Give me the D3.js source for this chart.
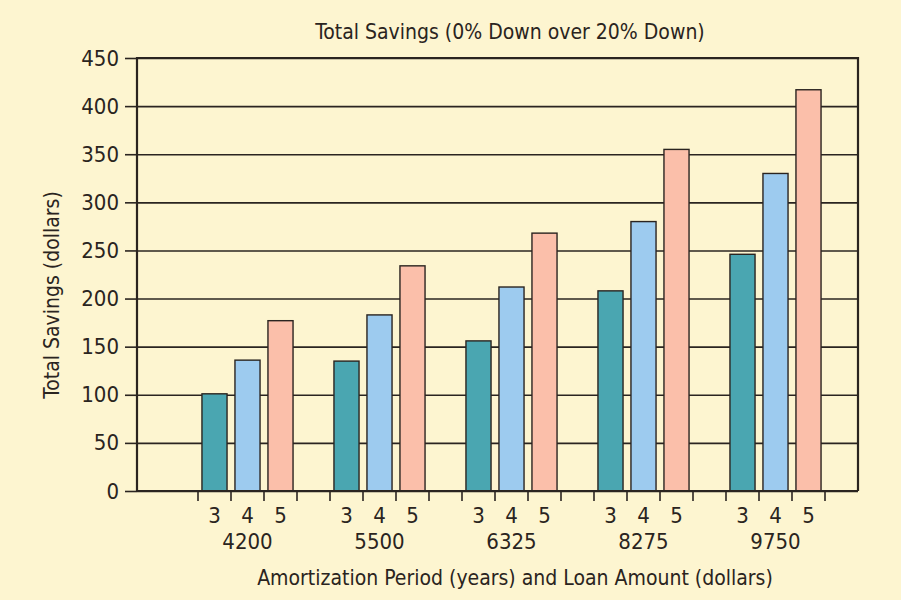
<!DOCTYPE html>
<html>
<head>
<meta charset="utf-8">
<script src="https://cdn.jsdelivr.net/npm/d3@7"></script>
<style>
  html, body { margin: 0; padding: 0; background: #fdf5d0; }
  svg text { font-family: "Liberation Sans Narrow", "DejaVu Sans Condensed", "Roboto Condensed", sans-serif; fill: #2a2420; }
</style>
</head>
<body>
<div class="bar-chart"></div>
<script>
// data
const loanAmounts = ['4200', '5500', '6325', '8275', '9750'];
const periods = ['3', '4', '5'];
const savings3yr = [101, 135, 156, 208, 246];
const savings4yr = [136, 183, 212, 280, 330];
const savings5yr = [177, 234, 268, 355, 417];
const yTicks = [0, 50, 100, 150, 200, 250, 300, 350, 400, 450];

const seriesColors = { '3': '#4aa6b1', '4': '#9dcbef', '5': '#fbbfaa' };

// 每筆 bar 的資料
const barData = [];
loanAmounts.forEach((amt, i) => {
    barData.push({ amt: amt, period: '3', value: savings3yr[i] });
    barData.push({ amt: amt, period: '4', value: savings4yr[i] });
    barData.push({ amt: amt, period: '5', value: savings5yr[i] });
});

setupCanvas(barData);

function setupCanvas(data) {
    const svg_width = 901;
    const svg_height = 600;
    const plot = { left: 137, right: 858, top: 58, bottom: 491 };
    const barsStart = 198; // 第一組前面有一段空白

    const svg = d3.select('.bar-chart').append('svg')
        .attr('width', svg_width).attr('height', svg_height);

    svg.append('rect').attr('width', svg_width).attr('height', svg_height).attr('fill', '#fdf5d0');

    // scales
    const xGroup = d3.scaleBand().domain(loanAmounts).range([barsStart, plot.right]).padding(0);
    const slots = periods.concat(['gap']);
    const xInner = d3.scaleBand().domain(slots).range([0, xGroup.bandwidth()])
        .paddingInner(0.24).paddingOuter(0.12);
    const yScale = d3.scaleLinear().domain([0, 450]).range([plot.bottom, plot.top]);

    const lineColor = '#2a2420';

    // y axis with gridlines
    const yAxis = d3.axisLeft(yScale).tickValues(yTicks)
        .tickSizeInner(-(plot.right - plot.left)).tickSizeOuter(0).tickPadding(20);
    const yG = svg.append('g').attr('class', 'y axis')
        .attr('transform', `translate(${plot.left},0)`)
        .call(yAxis);
    yG.select('.domain').remove();
    yG.selectAll('.tick line').attr('stroke', lineColor).attr('stroke-width', 1.6);
    // short tick outside the axis
    yG.selectAll('.tick').append('line')
        .attr('x1', -12).attr('x2', 0)
        .attr('stroke', lineColor).attr('stroke-width', 1.6);
    yG.selectAll('.tick text')
        .attr('x', -18)
        .style('font-size', '22px');

    // bars
    svg.append('g').attr('class', 'bars')
        .selectAll('rect').data(data).enter()
        .append('rect')
        .attr('x', d => xGroup(d.amt) + xInner(d.period))
        .attr('y', d => yScale(d.value))
        .attr('width', xInner.bandwidth())
        .attr('height', d => yScale(0) - yScale(d.value))
        .attr('fill', d => seriesColors[d.period])
        .attr('stroke', lineColor).attr('stroke-width', 1.4);

    // frame: left axis, top, right
    svg.append('path')
        .attr('d', `M${plot.left},${plot.bottom}V${plot.top}H${plot.right}V${plot.bottom}`)
        .attr('fill', 'none').attr('stroke', lineColor).attr('stroke-width', 2.2);

    // x axis
    const xG = svg.append('g').attr('class', 'x axis');
    xG.append('line')
        .attr('x1', plot.left).attr('x2', plot.right)
        .attr('y1', plot.bottom).attr('y2', plot.bottom)
        .attr('stroke', lineColor).attr('stroke-width', 2.2);

    // ticks at slot boundaries
    const step = xInner.step();
    const tickPos = [];
    loanAmounts.forEach(amt => {
        slots.forEach(s => tickPos.push(xGroup(amt) + xInner(s) - step * xInner.paddingInner() / 2));
    });
    xG.selectAll('.x-tick').data(tickPos).enter()
        .append('line').attr('class', 'x-tick')
        .attr('x1', d => d).attr('x2', d => d)
        .attr('y1', plot.bottom).attr('y2', plot.bottom + 10)
        .attr('stroke', lineColor).attr('stroke-width', 1.6);

    // period labels
    xG.selectAll('.period-label').data(data).enter()
        .append('text').attr('class', 'period-label')
        .attr('x', d => xGroup(d.amt) + xInner(d.period) + xInner.bandwidth() / 2)
        .attr('y', 523)
        .attr('text-anchor', 'middle')
        .style('font-size', '22px')
        .text(d => d.period);

    // loan amount labels (under the middle bar)
    xG.selectAll('.amt-label').data(loanAmounts).enter()
        .append('text').attr('class', 'amt-label')
        .attr('x', d => xGroup(d) + xInner('4') + xInner.bandwidth() / 2)
        .attr('y', 549)
        .attr('text-anchor', 'middle')
        .style('font-size', '22px')
        .text(d => d);

    // axis titles
    svg.append('text')
        .attr('x', 515).attr('y', 585)
        .attr('text-anchor', 'middle')
        .style('font-size', '21px')
        .text('Amortization Period (years) and Loan Amount (dollars)');

    svg.append('text')
        .attr('transform', 'translate(59,295) rotate(-90)')
        .attr('text-anchor', 'middle')
        .style('font-size', '21px')
        .text('Total Savings (dollars)');

    // header
    svg.append('text')
        .attr('x', 510).attr('y', 39)
        .attr('text-anchor', 'middle')
        .style('font-size', '21px')
        .text('Total Savings (0% Down over 20% Down)');
}
</script>
</body>
</html>
